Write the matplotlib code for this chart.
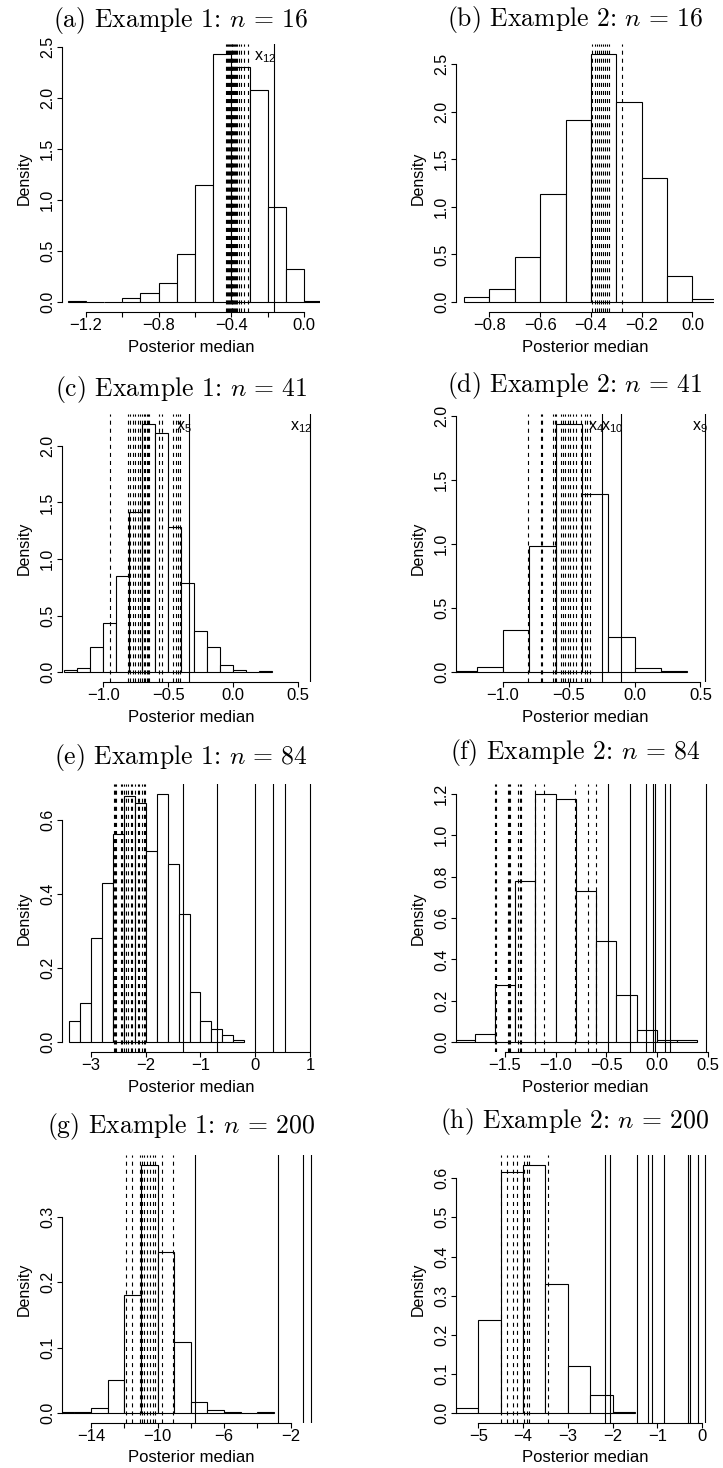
import matplotlib.pyplot as plt
import numpy as np

plt.rcParams['font.family'] = 'Liberation Sans'
plt.rcParams['mathtext.fontset'] = 'custom'
plt.rcParams['mathtext.rm'] = 'Liberation Sans'
plt.rcParams['mathtext.it'] = 'Liberation Sans:italic'
plt.rcParams['lines.scale_dashes'] = False

# (a) Example 1, n = 16
a_lo, a_bw = -1.3, 0.1
a_dens = [0.013, 0.003, 0.0, 0.043, 0.09, 0.19, 0.47, 1.145, 2.434, 2.307, 2.078, 0.933, 0.324, 0.013]
a_dash = [-0.430, -0.424, -0.419, -0.413, -0.407, -0.401, -0.398, -0.394, -0.390, -0.385,
          -0.379, -0.374, -0.368, -0.360, -0.349, -0.329, -0.307]
a_solid = [-0.165]
a_lab = ['12']

# (b) Example 2, n = 16
b_lo, b_bw = -0.9, 0.1
b_dens = [0.056, 0.133, 0.473, 1.131, 1.908, 2.605, 2.097, 1.299, 0.273, 0.032]
b_dash = [-0.396, -0.384, -0.378, -0.368, -0.362, -0.352, -0.346, -0.336, -0.330, -0.277]
b_solid = []
b_lab = []

# (c) Example 1, n = 41
c_lo, c_bw = -1.3, 0.1
c_dens = [0.021, 0.038, 0.219, 0.431, 0.854, 1.412, 2.195, 2.115, 1.279, 0.792, 0.360, 0.219,
          0.059, 0.021, 0.003, 0.009]
c_dash = [-0.949, -0.812, -0.794, -0.774, -0.753, -0.735, -0.717, -0.700, -0.686, -0.676,
          -0.666, -0.655, -0.645, -0.568, -0.545, -0.465, -0.442, -0.424, -0.406]
c_solid = [-0.336, 0.598]
c_lab = ['5', '12']

# (d) Example 2, n = 41
d_lo, d_bw = -1.4, 0.2
d_dens = [0.005, 0.039, 0.326, 0.988, 1.937, 1.387, 0.274, 0.029, 0.005]
d_dash = [-0.812, -0.711, -0.704, -0.617, -0.607, -0.597, -0.557, -0.544, -0.526, -0.506,
          -0.491, -0.465, -0.445, -0.405, -0.379, -0.359, -0.339]
d_solid = [-0.247, -0.101, 0.538]
d_lab = ['4', '10', '9']

# (e) Example 1, n = 84
e_lo, e_bw = -3.4, 0.2
e_dens = [0.057, 0.106, 0.281, 0.430, 0.561, 0.665, 0.645, 0.516, 0.670, 0.481, 0.346, 0.135,
          0.057, 0.036, 0.020, 0.006]
e_dash = [-2.586, -2.561, -2.537, -2.458, -2.434, -2.400, -2.355, -2.330, -2.275, -2.251,
          -2.200, -2.141, -2.117, -2.068, -2.038, -2.014]
e_solid = [-1.326, -0.705, -0.005, 0.318, 0.543, 1.0]
e_lab = []

# (f) Example 2, n = 84
f_lo, f_bw = -2.0, 0.2
f_dens = [0.011, 0.040, 0.277, 0.780, 1.200, 1.176, 0.731, 0.490, 0.226, 0.057, 0.011, 0.011]
f_dash = [-1.602, -1.589, -1.474, -1.461, -1.451, -1.375, -1.355, -1.342, -1.201, -1.118,
          -0.812, -0.684, -0.599]
f_solid = [-0.487, -0.263, -0.105, -0.036, -0.016, 0.082, 0.132, 0.480]
f_lab = []

# (g) Example 1, n = 200
g_lo, g_bw = -16.0, 1.0
g_dens = [0.001, 0.002, 0.0076, 0.050, 0.180, 0.379, 0.246, 0.109, 0.017, 0.004, 0.0015, 0.0, 0.0015]
g_dash = [-11.90, -11.52, -11.05, -10.95, -10.80, -10.62, -10.45, -10.30, -10.16, -9.71, -9.07]
g_solid = [-7.75, -2.78, -1.24, -0.80]
g_lab = []

# (h) Example 2, n = 200
h_lo, h_bw = -5.5, 0.5
h_dens = [0.0128, 0.238, 0.616, 0.634, 0.330, 0.120, 0.046, 0.0034]
h_dash = [-4.50, -4.367, -4.218, -4.128, -3.987, -3.905, -3.867, -3.435]
h_solid = [-2.168, -2.049, -1.46, -1.215, -1.118, -0.842, -0.32, -0.261, -0.082, 0.060]
h_lab = []

titles = [r'(a) Example 1: $n\,=\,16$', r'(b) Example 2: $n\,=\,16$',
          r'(c) Example 1: $n\,=\,41$', r'(d) Example 2: $n\,=\,41$',
          r'(e) Example 1: $n\,=\,84$', r'(f) Example 2: $n\,=\,84$',
          r'(g) Example 1: $n\,=\,200$', r'(h) Example 2: $n\,=\,200$']

xticks = [
    ([-1.2, -1.0, -0.8, -0.6, -0.4, -0.2, 0.0], ['−1.2', '', '−0.8', '', '−0.4', '', '0.0']),
    ([-0.8, -0.6, -0.4, -0.2, 0.0], ['−0.8', '−0.6', '−0.4', '−0.2', '0.0']),
    ([-1.0, -0.5, 0.0, 0.5], ['−1.0', '−0.5', '0.0', '0.5']),
    ([-1.0, -0.5, 0.0, 0.5], ['−1.0', '−0.5', '0.0', '0.5']),
    ([-3, -2, -1, 0, 1], ['−3', '−2', '−1', '0', '1']),
    ([-1.5, -1.0, -0.5, 0.0, 0.5], ['−1.5', '−1.0', '−0.5', '0.0', '0.5']),
    ([-14, -12, -10, -8, -6, -4, -2], ['−14', '', '−10', '', '−6', '', '−2']),
    ([-5, -4, -3, -2, -1, 0], ['−5', '−4', '−3', '−2', '−1', '0']),
]
yticks = [
    [0.0, 0.5, 1.0, 1.5, 2.0, 2.5],
    [0.0, 0.5, 1.0, 1.5, 2.0, 2.5],
    [0.0, 0.5, 1.0, 1.5, 2.0],
    [0.0, 0.5, 1.0, 1.5, 2.0],
    [0.0, 0.2, 0.4, 0.6],
    [0.0, 0.2, 0.4, 0.6, 0.8, 1.0, 1.2],
    [0.0, 0.1, 0.2, 0.3],
    [0.0, 0.1, 0.2, 0.3, 0.4, 0.5, 0.6],
]

hists = [
    (a_lo, a_bw, a_dens, a_dash, a_solid, a_lab),
    (b_lo, b_bw, b_dens, b_dash, b_solid, b_lab),
    (c_lo, c_bw, c_dens, c_dash, c_solid, c_lab),
    (d_lo, d_bw, d_dens, d_dash, d_solid, d_lab),
    (e_lo, e_bw, e_dens, e_dash, e_solid, e_lab),
    (f_lo, f_bw, f_dens, f_dash, f_solid, f_lab),
    (g_lo, g_bw, g_dens, g_dash, g_solid, g_lab),
    (h_lo, h_bw, h_dens, h_dash, h_solid, h_lab),
]

# layout, in pixels of the 723 x 1468 picture
W, H = 723.0, 1468.0
cols = [(62, 320), (456, 714)]
rows = [(44, 312), (414, 682), (784, 1052), (1155, 1423)]
xlims = [(-1.331, 0.087), (-0.932, 0.085), (-1.319, 0.672), (-1.357, 0.603),
         (-3.530, 1.183), (-1.984, 0.563), (-15.743, -0.238), (-5.499, 0.269)]
title_x = [181, 575]
title_base = [(27, 26), (396, 392), (764, 759), (1133, 1128)]

fig = plt.figure(figsize=(W / 100, H / 100), dpi=100)

for i, (lo, bw, dens, dash, solid, labs) in enumerate(hists):
    r, c = divmod(i, 2)
    x0, x1 = cols[c]
    y0, y1 = rows[r]
    ax = fig.add_axes([x0 / W, 1 - y1 / H, (x1 - x0) / W, (y1 - y0) / H])

    dens = np.asarray(dens)
    lefts = lo + bw * np.arange(len(dens))
    ax.bar(lefts, dens, width=bw, align='edge', facecolor='white',
           edgecolor='black', linewidth=0.8)
    for v in dash:
        ax.axvline(v, color='black', lw=0.8, linestyle=(0, (2.9, 2.9)))
    for v in solid:
        ax.axvline(v, color='black', lw=0.8)
    for v, s in zip(solid, labs):
        ax.annotate(r'$\mathrm{x}_{%s}$' % s, xy=(v, 1), xycoords=('data', 'axes fraction'),
                    xytext=(1.5, -3.5), textcoords='offset points',
                    ha='right', va='top', fontsize=11.5)

    m = dens.max()
    ax.set_ylim(-0.04 * m, 1.04 * m)
    ax.set_xlim(*xlims[i])

    xt, xtl = xticks[i]
    yt = yticks[i]
    ax.set_xticks(xt, xtl)
    ax.set_yticks(yt, ['%.1f' % v for v in yt], rotation=90, va='center')
    for s in ['top', 'right']:
        ax.spines[s].set_visible(False)
    for s in ['left', 'bottom']:
        ax.spines[s].set_linewidth(0.8)
    ax.spines['left'].set_bounds(yt[0], yt[-1])
    ax.spines['bottom'].set_bounds(xt[0], xt[-1])
    ax.tick_params(axis='x', length=3.6, width=0.8, labelsize=12, pad=0.5)
    ax.tick_params(axis='y', length=3.6, width=0.8, labelsize=11.5, pad=1.5)

    ax.set_xlabel('Posterior median', fontsize=12)
    ax.xaxis.set_label_coords(0.5, -35 / 268)
    ax.xaxis.label.set_va('center')
    ax.set_ylabel('Density', fontsize=11.5)
    ax.yaxis.set_label_coords(-0.145, 0.5)
    ax.yaxis.label.set_va('center')

    fig.text(title_x[c] / W, 1 - title_base[r][c] / H, titles[i], family='cmr10',
             math_fontfamily='cm', fontsize=18.5, ha='center', va='baseline')

fig.savefig('out.png', dpi=100)
